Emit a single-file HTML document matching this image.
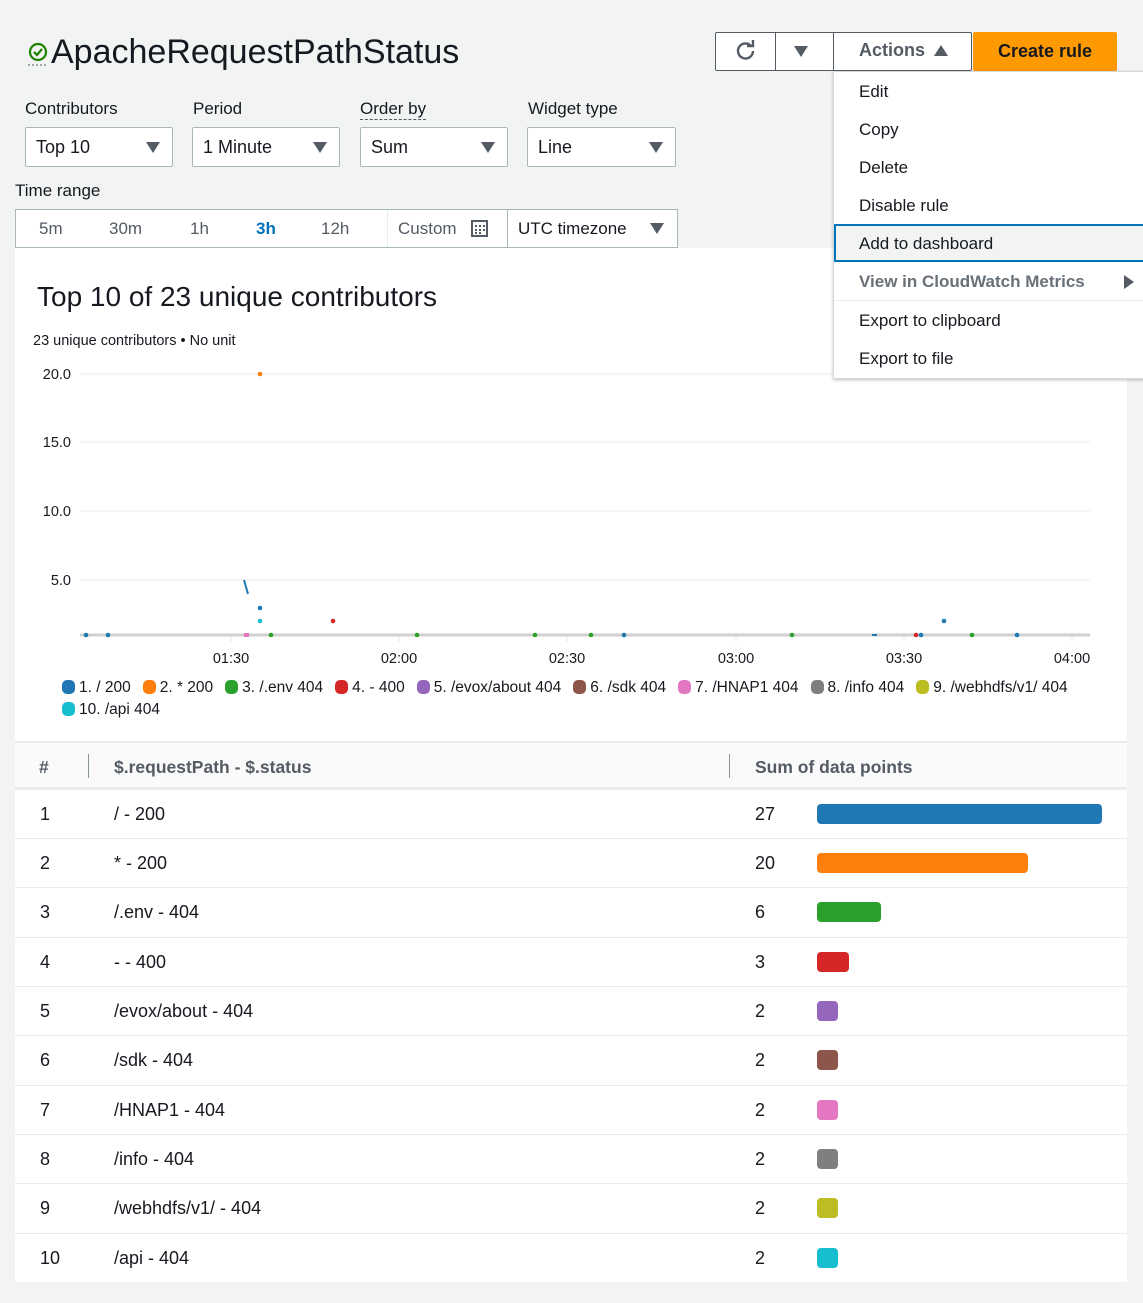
<!DOCTYPE html>
<html><head><meta charset="utf-8"><style>
*{box-sizing:border-box;margin:0;padding:0}
body{width:1143px;height:1303px;background:#f2f3f3;font-family:"Liberation Sans",sans-serif;color:#16191f;position:relative;overflow:hidden}
.a{position:absolute;white-space:nowrap}
.sel{position:absolute;height:40px;border:1px solid #aab7b8;background:#fff;border-radius:2px;font-size:18px;padding:9px 10px}
.tri{position:absolute;right:12px;top:14px;width:0;height:0;border-left:7px solid transparent;border-right:7px solid transparent;border-top:11px solid #545b64}
.lbl{position:absolute;font-size:17px}
.mi{position:absolute;left:859px;font-size:17px}
.row{position:absolute;left:15px;width:1112px;height:49px;border-top:1px solid #eaeded;background:#fff;font-size:18px}
.row span{position:absolute;top:14px}
.bar{position:absolute;left:802px;top:14px;height:20px;border-radius:4px}
.lg{display:inline-block;margin-right:12px;font-size:15.5px;color:#16191f}
.lg i{display:inline-block;width:13px;height:14px;border-radius:5px;vertical-align:-2px;margin-right:4px}
</style></head><body>
<svg class="a" style="left:27px;top:41px" width="22" height="26"><circle cx="11" cy="11" r="8" fill="none" stroke="#1d8102" stroke-width="2.2"/><path d="M7 11 l3 3 l5-6" fill="none" stroke="#1d8102" stroke-width="2.2"/><line x1="1" y1="24" x2="21" y2="24" stroke="#545b64" stroke-dasharray="2 2"/></svg>
<div class="a" style="left:51px;top:33px;font-size:34px;">ApacheRequestPathStatus</div>

<div class="lbl" style="left:25px;top:99px">Contributors</div>
<div class="lbl" style="left:193px;top:99px">Period</div>
<div class="lbl" style="left:360px;top:99px;border-bottom:1px dashed #545b64;line-height:20px">Order by</div>
<div class="lbl" style="left:528px;top:99px">Widget type</div>
<div class="sel" style="left:25px;top:127px;width:148px">Top 10<div class="tri"></div></div>
<div class="sel" style="left:192px;top:127px;width:148px">1 Minute<div class="tri"></div></div>
<div class="sel" style="left:360px;top:127px;width:148px">Sum<div class="tri"></div></div>
<div class="sel" style="left:527px;top:127px;width:149px">Line<div class="tri"></div></div>

<div class="lbl" style="left:15px;top:181px">Time range</div>
<div class="a" style="left:15px;top:209px;width:663px;height:39px;border:1px solid #aab7b8;background:#fff"></div>
<div class="a" style="left:387px;top:210px;width:1px;height:37px;background:#eaeded"></div>
<div class="a" style="left:507px;top:210px;width:1px;height:37px;background:#aab7b8"></div>
<div class="a" style="left:39px;top:219px;font-size:17px;color:#545b64">5m</div>
<div class="a" style="left:109px;top:219px;font-size:17px;color:#545b64">30m</div>
<div class="a" style="left:190px;top:219px;font-size:17px;color:#545b64">1h</div>
<div class="a" style="left:256px;top:219px;font-size:17px;color:#0073bb;font-weight:bold">3h</div>
<div class="a" style="left:321px;top:219px;font-size:17px;color:#545b64">12h</div>
<div class="a" style="left:398px;top:219px;font-size:17px;color:#545b64">Custom</div>
<svg class="a" style="left:471px;top:220px" width="17" height="17"><rect x="1" y="1" width="15" height="15" fill="none" stroke="#545b64" stroke-width="2"/><g fill="#545b64"><rect x="4" y="5" width="2" height="2"/><rect x="8" y="5" width="2" height="2"/><rect x="12" y="5" width="2" height="2"/><rect x="4" y="9" width="2" height="2"/><rect x="8" y="9" width="2" height="2"/><rect x="12" y="9" width="2" height="2"/><rect x="4" y="12" width="2" height="2"/><rect x="8" y="12" width="2" height="2"/></g></svg>
<div class="a" style="left:518px;top:219px;font-size:17px">UTC timezone</div>
<div class="tri" style="right:auto;left:650px;top:223px"></div>

<div class="a" style="left:715px;top:32px;width:257px;height:39px;border:1px solid #545b64;border-radius:2px;background:#fff"></div>
<div class="a" style="left:775px;top:32px;width:1px;height:39px;background:#545b64"></div>
<div class="a" style="left:833px;top:32px;width:1px;height:39px;background:#545b64"></div>
<svg class="a" style="left:734px;top:39px" width="24" height="24"><path d="M19 12 a7.5 7.5 0 1 1 -2.5 -5.6" fill="none" stroke="#545b64" stroke-width="2.4"/><path d="M13 4 l6 0 l0-6" transform="translate(0,3)" fill="none" stroke="#545b64" stroke-width="2.4"/></svg>
<div class="tri" style="right:auto;left:794px;top:46px"></div>
<div class="a" style="left:859px;top:40px;font-size:18px;font-weight:bold;color:#545b64">Actions</div>
<div class="a" style="left:934px;top:45px;width:0;height:0;border-left:7px solid transparent;border-right:7px solid transparent;border-bottom:11px solid #545b64"></div>
<div class="a" style="left:973px;top:32px;width:144px;height:39px;background:#ff9900;border-radius:2px;font-size:18px;font-weight:bold;text-align:center;padding-top:9px">Create rule</div>

<div class="a" style="left:15px;top:248px;width:1112px;height:1034px;background:#fff"></div>
<div class="a" style="left:37px;top:281px;font-size:28px">Top 10 of 23 unique contributors</div>
<div class="a" style="left:33px;top:333px;font-size:14.5px">23 unique contributors • No unit</div>

<svg class="a" style="left:0;top:0" width="1143" height="720">
<g stroke="#eaeded" stroke-width="1"><line x1="80" y1="374" x2="1090" y2="374"/><line x1="80" y1="442" x2="1090" y2="442"/><line x1="80" y1="511" x2="1090" y2="511"/><line x1="80" y1="580" x2="1090" y2="580"/></g>
<line x1="80" y1="635" x2="1090" y2="635" stroke="#d0d0d0" stroke-width="3"/>
<g stroke="#e8e8e8"><line x1="231" y1="637" x2="231" y2="642"/><line x1="399" y1="637" x2="399" y2="642"/><line x1="567" y1="637" x2="567" y2="642"/><line x1="736" y1="637" x2="736" y2="642"/><line x1="904" y1="637" x2="904" y2="642"/><line x1="1072" y1="637" x2="1072" y2="642"/></g>
<g font-family="Liberation Sans" font-size="14.5" fill="#16191f" text-anchor="end"><text x="71" y="379">20.0</text><text x="71" y="447">15.0</text><text x="71" y="516">10.0</text><text x="71" y="585">5.0</text></g>
<g font-family="Liberation Sans" font-size="14.5" fill="#16191f" text-anchor="middle"><text x="231" y="663">01:30</text><text x="399" y="663">02:00</text><text x="567" y="663">02:30</text><text x="736" y="663">03:00</text><text x="904" y="663">03:30</text><text x="1072" y="663">04:00</text></g>
<line x1="244" y1="580" x2="248" y2="594" stroke="#1f77b4" stroke-width="2"/>
<g>
<circle cx="86" cy="635" r="2.3" fill="#1f77b4"/><circle cx="108" cy="635" r="2.3" fill="#1f77b4"/>
<rect x="244" y="633" width="5" height="4" fill="#e377c2"/>
<circle cx="271" cy="635" r="2.3" fill="#2ca02c"/><circle cx="417" cy="635" r="2.3" fill="#2ca02c"/><circle cx="535" cy="635" r="2.3" fill="#2ca02c"/><circle cx="591" cy="635" r="2.3" fill="#2ca02c"/>
<circle cx="624" cy="635" r="2.3" fill="#1f77b4"/><circle cx="792" cy="635" r="2.3" fill="#2ca02c"/>
<rect x="872" y="634" width="5" height="2" fill="#1f77b4"/>
<circle cx="916" cy="635" r="2.3" fill="#d62728"/><circle cx="921" cy="635" r="2.3" fill="#1f77b4"/><circle cx="972" cy="635" r="2.3" fill="#2ca02c"/><circle cx="1017" cy="635" r="2.3" fill="#1f77b4"/>
<circle cx="260" cy="608" r="2.3" fill="#1f77b4"/><circle cx="260" cy="621" r="2.3" fill="#17becf"/><circle cx="333" cy="621" r="2.3" fill="#d62728"/><circle cx="944" cy="621" r="2.3" fill="#1f77b4"/>
<circle cx="260" cy="374" r="2.3" fill="#ff7f0e"/>
</g>
</svg>

<div class="a" style="left:62px;top:677px;width:1065px;white-space:normal;line-height:22px">
<span class="lg"><i style="background:#1f77b4"></i>1. / 200</span><span class="lg"><i style="background:#ff7f0e"></i>2. * 200</span><span class="lg"><i style="background:#2ca02c"></i>3. /.env 404</span><span class="lg"><i style="background:#d62728"></i>4. - 400</span><span class="lg"><i style="background:#9467bd"></i>5. /evox/about 404</span><span class="lg"><i style="background:#8c564b"></i>6. /sdk 404</span><span class="lg"><i style="background:#e377c2"></i>7. /HNAP1 404</span><span class="lg"><i style="background:#7f7f7f"></i>8. /info 404</span><span class="lg" style="margin-right:0"><i style="background:#bcbd22"></i>9. /webhdfs/v1/ 404</span><br><span class="lg"><i style="background:#17becf"></i>10. /api 404</span>
</div>

<div class="a" style="left:15px;top:741px;width:1112px;height:48px;background:#fafafa;border-top:2px solid #eaeded;border-bottom:2px solid #eaeded;font-size:17.5px;font-weight:bold;color:#545b64">
<span class="a" style="left:24px;top:14px">#</span>
<span class="a" style="left:73px;top:11px;width:1px;height:24px;background:#879596"></span>
<span class="a" style="left:99px;top:14px">$.requestPath - $.status</span>
<span class="a" style="left:714px;top:11px;width:1px;height:24px;background:#879596"></span>
<span class="a" style="left:740px;top:14px">Sum of data points</span>
</div>
<div class="row" style="top:789px"><span style="left:25px">1</span><span style="left:99px">/ - 200</span><span style="left:740px">27</span><div class="bar" style="width:285px;background:#1f77b4"></div></div>
<div class="row" style="top:838px"><span style="left:25px">2</span><span style="left:99px">* - 200</span><span style="left:740px">20</span><div class="bar" style="width:211px;background:#ff7f0e"></div></div>
<div class="row" style="top:887px"><span style="left:25px">3</span><span style="left:99px">/.env - 404</span><span style="left:740px">6</span><div class="bar" style="width:64px;background:#2ca02c"></div></div>
<div class="row" style="top:937px"><span style="left:25px">4</span><span style="left:99px">- - 400</span><span style="left:740px">3</span><div class="bar" style="width:32px;background:#d62728"></div></div>
<div class="row" style="top:986px"><span style="left:25px">5</span><span style="left:99px">/evox/about - 404</span><span style="left:740px">2</span><div class="bar" style="width:21px;background:#9467bd"></div></div>
<div class="row" style="top:1035px"><span style="left:25px">6</span><span style="left:99px">/sdk - 404</span><span style="left:740px">2</span><div class="bar" style="width:21px;background:#8c564b"></div></div>
<div class="row" style="top:1085px"><span style="left:25px">7</span><span style="left:99px">/HNAP1 - 404</span><span style="left:740px">2</span><div class="bar" style="width:21px;background:#e377c2"></div></div>
<div class="row" style="top:1134px"><span style="left:25px">8</span><span style="left:99px">/info - 404</span><span style="left:740px">2</span><div class="bar" style="width:21px;background:#7f7f7f"></div></div>
<div class="row" style="top:1183px"><span style="left:25px">9</span><span style="left:99px">/webhdfs/v1/ - 404</span><span style="left:740px">2</span><div class="bar" style="width:21px;background:#bcbd22"></div></div>
<div class="row" style="top:1233px"><span style="left:25px">10</span><span style="left:99px">/api - 404</span><span style="left:740px">2</span><div class="bar" style="width:21px;background:#17becf"></div></div>

<div class="a" style="left:833px;top:71px;width:315px;height:308px;background:#fff;border:1px solid #d5dbdb;box-shadow:0 1px 3px rgba(0,0,0,.25)"></div>
<div class="mi" style="top:82px">Edit</div>
<div class="mi" style="top:120px">Copy</div>
<div class="mi" style="top:158px">Delete</div>
<div class="mi" style="top:196px">Disable rule</div>
<div class="a" style="left:834px;top:224px;width:312px;height:38px;background:#f2f3f3;border:2px solid #0073bb"></div>
<div class="mi" style="top:234px">Add to dashboard</div>
<div class="mi" style="top:272px;font-weight:bold;color:#687078">View in CloudWatch Metrics</div>
<div class="a" style="left:1124px;top:275px;width:0;height:0;border-top:7px solid transparent;border-bottom:7px solid transparent;border-left:10px solid #545b64"></div>
<div class="a" style="left:834px;top:300px;width:312px;height:1px;background:#eaeded"></div>
<div class="mi" style="top:311px">Export to clipboard</div>
<div class="mi" style="top:349px">Export to file</div>
</body></html>
